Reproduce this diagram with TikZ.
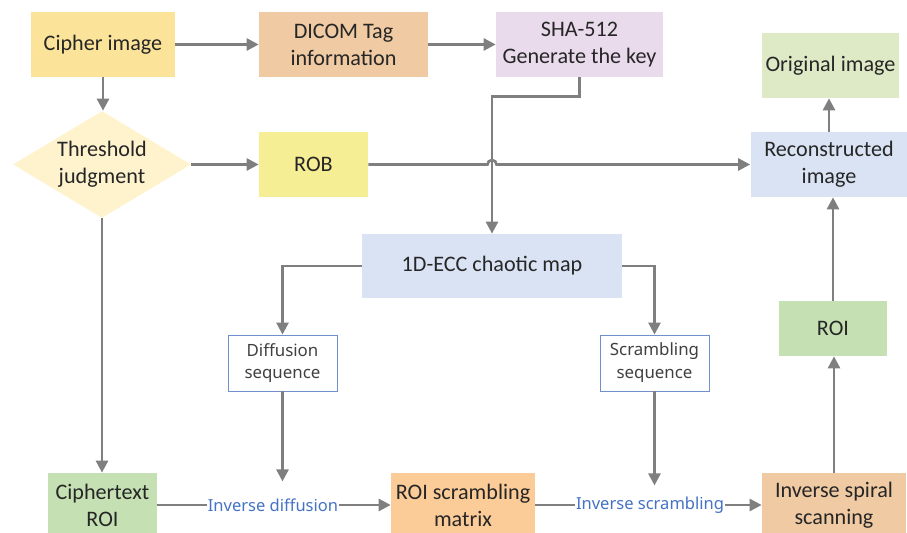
\documentclass[tikz,border=0pt]{standalone}
\usepackage{fontspec}
\setmainfont{Carlito}
\newfontfamily\seqfont{Noto Sans}
\usepackage{xcolor}
\usetikzlibrary{arrows.meta,shapes.geometric,calc}
\definecolor{arrgrey}{HTML}{7F7F7F}
\definecolor{txtc}{HTML}{262626}
\definecolor{cipherc}{HTML}{FBE49A}
\definecolor{dicomc}{HTML}{EFCAA3}
\definecolor{shac}{HTML}{E9DAEC}
\definecolor{origc}{HTML}{DEEAC6}
\definecolor{judgec}{HTML}{FEF3CD}
\definecolor{robc}{HTML}{F6EE95}
\definecolor{bluec}{HTML}{DAE3F3}
\definecolor{roic}{HTML}{C5E0B3}
\definecolor{matc}{HTML}{FBCB98}
\definecolor{seqblue}{HTML}{4472C4}
\definecolor{seqline}{HTML}{6F8FCF}
\definecolor{seqtxt}{HTML}{404040}

\begin{document}
\begin{tikzpicture}[
  x=0.02cm, y=-0.02cm,
  box/.style={minimum height=1.3cm, inner sep=0pt, align=center,
              text=txtc, font=\fontsize{12.6}{15.3}\selectfont},
  judgebox/.style={diamond, aspect=1.66, inner sep=0pt, minimum width=3.56cm,
              minimum height=2.14cm, align=center, text=txtc,
              font=\fontsize{12.6}{15.3}\selectfont},
  seqbox/.style={draw=seqline, line width=0.5pt, fill=white, minimum width=2.18cm,
              minimum height=1.12cm, inner sep=0pt, align=center, text=seqtxt,
              font=\seqfont\fontsize{9.6}{13}\selectfont},
  lbl/.style={inner sep=0.5pt, text=seqblue, font=\seqfont\fontsize{9.4}{11}\selectfont},
  arr/.style={-{Triangle[length=0.24cm,width=0.24cm]}, line width=1.5pt, draw=arrgrey},
  conn/.style={line width=1.5pt, draw=arrgrey}
]
  \useasboundingbox (0,0) rectangle (907,533);
  \clip (0,0) rectangle (907,533);

  \node[box, fill=cipherc, minimum width=2.88cm] (cipher) at (103,44.5) {Cipher image};
  \node[box, fill=dicomc, minimum width=3.38cm] (dicom) at (343.5,44.5) {DICOM Tag\\information};
  \node[box, fill=shac, minimum width=3.34cm] (sha) at (579.5,44.5) {SHA-512\\Generate the key};
  \node[box, fill=origc, minimum width=2.74cm] (orig) at (830.5,65.5) {Original image};

  \node[judgebox, fill=judgec] (judge) at (102,164.5) {Threshold\\judgment};
  \node[box, fill=robc, minimum width=2.18cm] (rob) at (313.5,164.5) {ROB};
  \node[box, fill=bluec, minimum width=3.14cm] (recon) at (829,164.5) {Reconstructed\\image};

  \node[box, fill=bluec, minimum width=5.2cm, minimum height=1.28cm] (ecc) at (492,266) {1D-ECC chaotic map};
  \node[seqbox] (diffseq) at (282.5,363) {Diffusion\\sequence};
  \node[seqbox] (scrseq) at (654.5,363) {Scrambling\\sequence};
  \node[box, fill=roic, minimum width=2.16cm, minimum height=1.1cm] (roi) at (833,328.5) {ROI};

  \node[box, fill=roic, minimum width=2.18cm, minimum height=1.28cm] (ctroi) at (102.5,505) {Ciphertext\\ROI};
  \node[box, fill=matc, minimum width=2.88cm, minimum height=1.28cm] (rsm) at (463,505) {ROI scrambling\\matrix};
  \node[box, fill=dicomc, minimum width=2.88cm, minimum height=1.28cm] (isp) at (834,505) {Inverse spiral\\scanning};
  \node[lbl] (invdiff) at (273,505) {Inverse diffusion};
  \node[lbl] (invscr) at (650,505) {Inverse scrambling};

  \draw[arr] (cipher) -- (dicom);
  \draw[arr] (dicom) -- (sha);
  \draw[arr] (cipher.south) -- (cipher.south |- judge.north);
  \draw[arr] (judge.east) -- (judge.east -| rob.west);
  \coordinate (hop) at (ecc.north |- rob.east);
  \draw[arr] (rob.east) -- ([xshift=-0.09cm]hop) arc[start angle=180, end angle=0, radius=0.09cm] -- (recon.west);
  \draw[arr] (sha.south) -- ++(0,19) -| (ecc.north);
  \draw[arr] (recon.north) -- (recon.north |- orig.south);
  \draw[arr] (judge.south) -- (judge.south |- ctroi.north);
  \draw[arr] (ecc.west) -| (diffseq.north);
  \draw[arr] (ecc.east) -| (scrseq.north);
  \draw[arr] (diffseq.south) -- ++(0,90);
  \draw[arr] (scrseq.south) -- ++(0,94);
  \draw[conn] (ctroi) -- (invdiff);
  \draw[arr] (invdiff) -- (rsm);
  \draw[conn] (rsm) -- (invscr);
  \draw[arr] (invscr) -- (isp);
  \draw[arr] (isp.north) -- (isp.north |- roi.south);
  \draw[arr] (roi.north) -- (roi.north |- recon.south);
\end{tikzpicture}
\end{document}
